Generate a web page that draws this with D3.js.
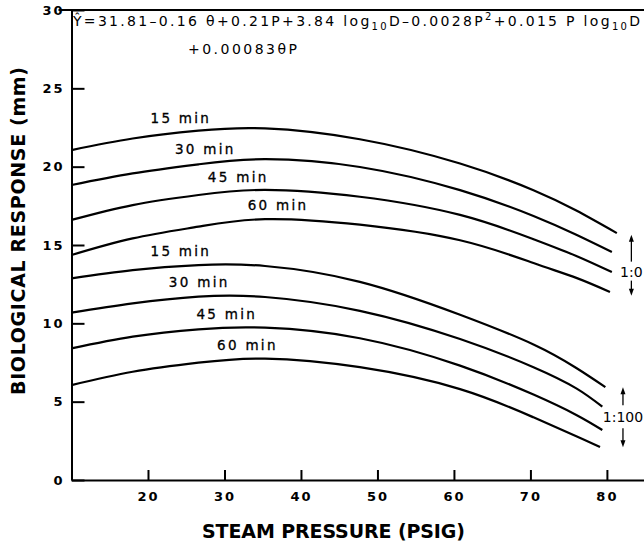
<!DOCTYPE html>
<html>
<head>
<meta charset="utf-8">
<script src="https://cdn.jsdelivr.net/npm/d3@7"></script>
<style>
body { margin: 0; background: #fff; }
svg { display: block; font-family: "DejaVu Sans", sans-serif; }
</style>
</head>
<body>
<div id="chart"></div>
<script>
// steam pressure (psig); each curve ends at its own pressure
const pressure = [10, 18, 26.6, 35.3, 47.7, 60.8, 70.4, 76];
const endPressure = [81.3, 80.65, 80.65, 80.4, 79.8, 79.4, 79.4, 79.1];

const times = ['15 min', '30 min', '45 min', '60 min'];
const dilutions = ['1:0', '1:100'];

// biological response (mm), dilution 1:0
const undiluted15 = [21.06, 21.8, 22.3, 22.44, 21.75, 20.2, 18.5, 17.2, 15.76];
const undiluted30 = [18.83, 19.57, 20.15, 20.48, 19.98, 18.5, 16.85, 15.65, 14.55];
const undiluted45 = [16.6, 17.55, 18.19, 18.52, 18.08, 16.92, 15.37, 14.3, 13.27];
const undiluted60 = [14.36, 15.42, 16.17, 16.65, 16.3, 15.3, 13.85, 12.9, 12.0];

// biological response (mm), dilution 1:100
const diluted15 = [12.87, 13.4, 13.72, 13.66, 12.65, 10.55, 8.65, 7.15, 5.93];
const diluted30 = [10.68, 11.27, 11.7, 11.68, 10.8, 9.0, 7.2, 5.85, 4.68];
const diluted45 = [8.4, 9.15, 9.62, 9.72, 9.05, 7.3, 5.45, 4.15, 3.19];
const diluted60 = [6.06, 6.91, 7.49, 7.75, 7.2, 5.8, 4.0, 2.8, 2.11];

const xTicks = [20, 30, 40, 50, 60, 70, 80];
const yTicks = [0, 5, 10, 15, 20, 25, 30];

const allValues = [undiluted15, undiluted30, undiluted45, undiluted60,
                   diluted15, diluted30, diluted45, diluted60];

const series = allValues.map((vals, i) => ({
    label: times[i % 4],
    dilution: dilutions[Math.floor(i / 4)],
    points: vals.map((v, j) => [j < pressure.length ? pressure[j] : endPressure[i], v])
}));

const width = 644;
const height = 548;
const margin = { top: 10, right: 0, bottom: 68, left: 71.5 };

const svg = d3.select('#chart')
    .append('svg')
    .attr('width', width)
    .attr('height', height);

const xScale = d3.scaleLinear()
    .domain([10, 84.85])
    .range([margin.left, width - margin.right]);

const yScale = d3.scaleLinear()
    .domain([0, 30])
    .range([height - margin.bottom, margin.top]);

// fit a text element to a pixel width by letter spacing
function fitWidth(sel, target) {
    const node = sel.node();
    const w = node.getComputedTextLength();
    const n = node.textContent.length;
    sel.attr('letter-spacing', (target - w) / (n - 1));
}

// axes
const xAxis = svg.append('g')
    .attr('transform', `translate(0, ${yScale(0)})`)
    .call(d3.axisBottom(xScale).tickValues(xTicks).tickSize(-10).tickSizeOuter(0).tickPadding(12));

const yAxis = svg.append('g')
    .attr('transform', `translate(${margin.left}, 0)`)
    .call(d3.axisLeft(yScale).tickValues(yTicks).tickSize(-13).tickSizeOuter(0).tickPadding(9));

[xAxis, yAxis].forEach(g => {
    g.selectAll('path, line').attr('stroke', '#000').attr('stroke-width', 2);
    g.selectAll('text')
        .attr('fill', '#000')
        .style('font-family', '"DejaVu Sans", sans-serif')
        .style('font-size', '13px')
        .style('font-weight', 'bold')
        .attr('letter-spacing', 2);
});
yAxis.selectAll('text').attr('dx', 2);

// top frame line
svg.append('line')
    .attr('x1', margin.left - 13)
    .attr('x2', width)
    .attr('y1', yScale(30))
    .attr('y2', yScale(30))
    .attr('stroke', '#000')
    .attr('stroke-width', 2);

// curves
const line = d3.line()
    .x(d => xScale(d[0]))
    .y(d => yScale(d[1]))
    .curve(d3.curveNatural);

svg.selectAll('path.curve')
    .data(series)
    .enter()
    .append('path')
    .attr('class', 'curve')
    .attr('d', d => line(d.points))
    .attr('fill', 'none')
    .attr('stroke', '#000')
    .attr('stroke-width', 2.2);

// curve labels, placed a little above each curve
const labelAt = [24.3, 27.5, 31.8, 37, 24.3, 26.7, 30.3, 33];

function valueAt(points, p) {
    for (let i = 1; i < points.length; i++) {
        if (p <= points[i][0]) {
            const [p0, v0] = points[i - 1];
            const [p1, v1] = points[i];
            return v0 + (v1 - v0) * (p - p0) / (p1 - p0);
        }
    }
    return points[points.length - 1][1];
}

svg.selectAll('text.curve-label')
    .data(series)
    .enter()
    .append('text')
    .attr('class', 'curve-label')
    .attr('x', (d, i) => xScale(labelAt[i]))
    .attr('y', (d, i) => yScale(valueAt(d.points, labelAt[i])) - 10)
    .attr('text-anchor', 'middle')
    .attr('font-size', 13.5)
    .attr('letter-spacing', 2.3)
    .attr('fill', '#000')
    .attr('stroke', '#000')
    .attr('stroke-width', 0.3)
    .text(d => d.label);

// dilution markers on the right
const dilutionMarks = [
    { text: dilutions[0], p: 83.2, v: 13.3, up: [-10, -37], down: [9, 24] },
    { text: dilutions[1], p: 82.1, v: 4.0, up: [-12, -30], down: [11, 30] }
];

dilutionMarks.forEach(m => {
    const cx = xScale(m.p);
    const cy = yScale(m.v);
    svg.append('text')
        .attr('x', cx)
        .attr('y', cy)
        .attr('dy', '0.36em')
        .attr('text-anchor', 'middle')
        .attr('font-size', 14)
        .attr('fill', '#000')
        .text(m.text);
    [m.up, m.down].forEach(([a, b]) => {
        const dir = Math.sign(b - a);
        svg.append('line')
            .attr('x1', cx).attr('x2', cx)
            .attr('y1', cy + a).attr('y2', cy + b - dir * 5)
            .attr('stroke', '#000')
            .attr('stroke-width', 1.3);
        svg.append('path')
            .attr('d', `M${cx},${cy + b}L${cx - 2.5},${cy + b - dir * 7}L${cx + 2.5},${cy + b - dir * 7}Z`)
            .attr('fill', '#000');
    });
});

// regression equation
const eqParts = [
    { t: 'Ŷ=31.81–0.16 θ+0.21P+3.84 log' },
    { t: '10', shift: 4, small: true },
    { t: 'D–0.0028P' },
    { t: '2', shift: -6, small: true },
    { t: '+0.015 P log' },
    { t: '10', shift: 4, small: true },
    { t: 'D' }
];

const eq = svg.append('text')
    .attr('x', 73)
    .attr('y', 26)
    .attr('font-size', 14)
    .attr('fill', '#000');

let prevShift = 0;
eqParts.forEach(part => {
    const shift = part.shift || 0;
    eq.append('tspan')
        .attr('dy', shift - prevShift)
        .attr('font-size', part.small ? 10 : 14)
        .text(part.t);
    prevShift = shift;
});
fitWidth(eq, 567);

const eq2 = svg.append('text')
    .attr('x', 188)
    .attr('y', 54)
    .attr('font-size', 14)
    .attr('fill', '#000')
    .text('+0.00083θP');
fitWidth(eq2, 109);

// axis titles
const xTitle = svg.append('text')
    .attr('x', 202)
    .attr('y', 538)
    .attr('font-size', 19)
    .attr('font-weight', 'bold')
    .attr('fill', '#000')
    .text('STEAM PRESSURE (PSIG)');
fitWidth(xTitle, 263);

const yTitle = svg.append('text')
    .attr('transform', 'translate(25, 395) rotate(-90)')
    .attr('font-size', 19)
    .attr('font-weight', 'bold')
    .attr('fill', '#000')
    .text('BIOLOGICAL RESPONSE (mm)');
fitWidth(yTitle, 328);
</script>
</body>
</html>
